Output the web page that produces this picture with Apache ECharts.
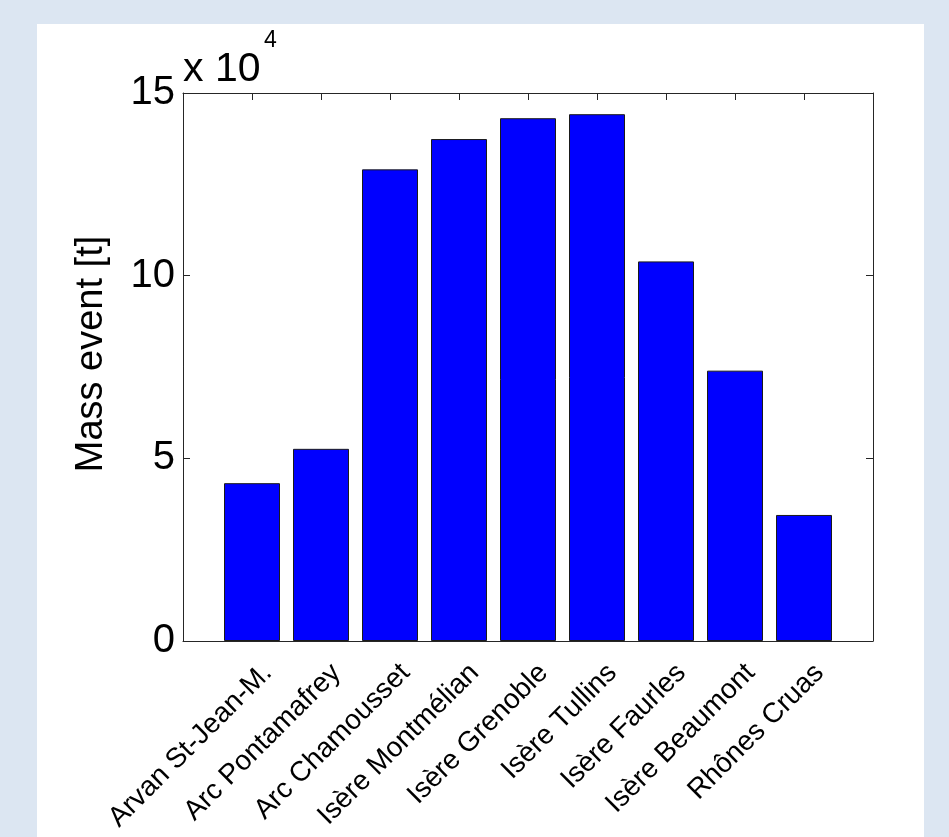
<!DOCTYPE html>
<html>
<head>
<meta charset="utf-8">
<script src="https://cdn.jsdelivr.net/npm/echarts@6/dist/echarts.min.js"></script>
<style>
  html, body { margin: 0; padding: 0; width: 949px; height: 837px; background: #dce6f2; overflow: hidden; }
  #panel { position: absolute; left: 37px; top: 24px; width: 887px; height: 813px; background: #ffffff; }
  #chart { width: 887px; height: 813px; }
</style>
</head>
<body>
<div id="panel"><div id="chart"></div></div>
<script>
const categories = ['Arvan St-Jean-M.', 'Arc Pontamafrey', 'Arc Chamousset', 'Isère Montmélian', 'Isère Grenoble', 'Isère Tullins', 'Isère Faurles', 'Isère Beaumont', 'Rhônes Cruas'];
const massEvent = [43200, 52600, 129100, 137400, 143100, 144200, 103900, 74000, 34500];
const yTicks = [0, 50000, 100000, 150000];

const FONT = '"Liberation Sans", Arial, Helvetica, sans-serif';
const chart = echarts.init(document.getElementById('chart'), null, { renderer: 'canvas' });
const barData = massEvent.map((v, i) => [i + 1, v]);
const axisLineStyle = { color: '#262626', width: 1 };

chart.setOption({
  animation: false,
  backgroundColor: 'transparent',
  title: [
    { text: 'x 10', left: 146, top: 25, padding: 0, textStyle: { fontFamily: FONT, fontSize: 41, fontWeight: 'normal', color: '#000' } },
    { text: '4', left: 227, top: 5, padding: 0, textStyle: { fontFamily: FONT, fontSize: 23, fontWeight: 'normal', color: '#000' } }
  ],
  grid: { left: 146, top: 69, right: 51, bottom: 196, containLabel: false },
  xAxis: [
    {
      type: 'value', min: 0, max: 10, interval: 1, position: 'bottom',
      axisLine: { onZero: false, lineStyle: axisLineStyle },
      axisTick: { inside: true, length: 7, lineStyle: axisLineStyle },
      splitLine: { show: false },
      axisLabel: {
        rotate: 45, margin: 12, align: 'right', verticalAlign: 'top', lineHeight: 28,
        padding: [8, 0, 0, 0],
        fontFamily: FONT, fontSize: 28, color: '#000',
        formatter: v => (v >= 1 && v <= categories.length && Number.isInteger(v)) ? categories[v - 1] : ''
      }
    },
    {
      type: 'value', min: 0, max: 10, interval: 1, position: 'top',
      axisLine: { onZero: false, lineStyle: axisLineStyle },
      axisTick: { inside: true, length: 7, lineStyle: axisLineStyle },
      splitLine: { show: false },
      axisLabel: { show: false }
    }
  ],
  yAxis: [
    {
      type: 'value', min: yTicks[0], max: yTicks[yTicks.length - 1], interval: yTicks[1] - yTicks[0], position: 'left',
      name: 'Mass event [t]', nameLocation: 'middle', nameGap: 72,
      nameTextStyle: { fontFamily: FONT, fontSize: 38, color: '#000', padding: [0, 0, 0, 26] },
      axisLine: { show: true, onZero: false, lineStyle: axisLineStyle },
      axisTick: { show: true, inside: true, length: 7, lineStyle: axisLineStyle },
      splitLine: { show: false },
      axisLabel: { margin: 8, fontFamily: FONT, fontSize: 40, color: '#000', formatter: v => String(v / 10000) }
    },
    {
      type: 'value', min: yTicks[0], max: yTicks[yTicks.length - 1], interval: yTicks[1] - yTicks[0], position: 'right',
      axisLine: { show: true, onZero: false, lineStyle: axisLineStyle },
      axisTick: { show: true, inside: true, length: 7, lineStyle: axisLineStyle },
      splitLine: { show: false },
      axisLabel: { show: false }
    }
  ],
  series: [{
    type: 'bar',
    xAxisIndex: 0, yAxisIndex: 0,
    data: barData,
    barWidth: 56,
    itemStyle: { color: '#0000ff', borderColor: '#1a1a1a', borderWidth: 1 }
  }]
});
</script>
</body>
</html>
